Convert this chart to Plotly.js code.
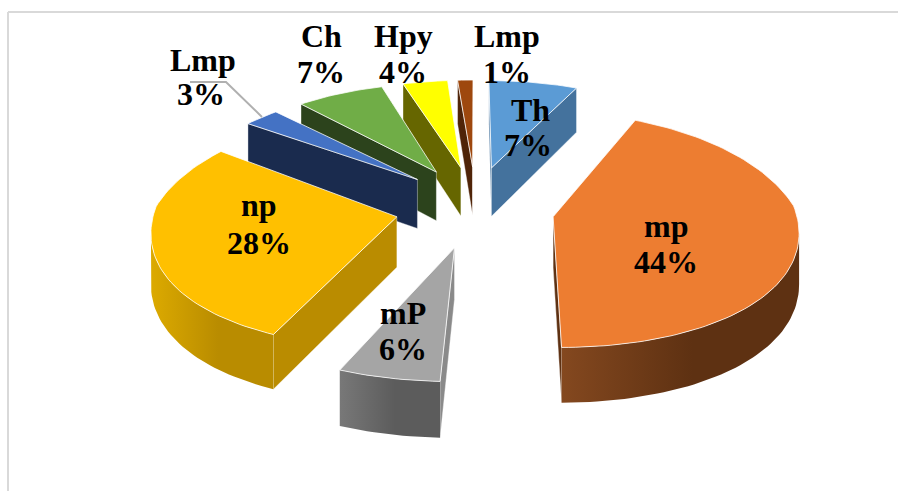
<!DOCTYPE html>
<html>
<head>
<meta charset="utf-8">
<script src="https://cdn.plot.ly/plotly-3.0.1.min.js"></script>
<style>html,body{margin:0;padding:0;background:#fff}#chart{width:898px;height:491px}</style>
</head>
<body>
<div id="chart"></div>
<script>
// Data, in clockwise order from twelve o'clock
const categories = ['Th', 'mp', 'mP', 'np', 'Lmp', 'Ch', 'Hpy', 'Lmp'];
const percents   = [7, 44, 6, 28, 3, 7, 4, 1];

// Styles
const topColors  = ['#5b9bd5', '#ed7d31', '#a5a5a5', '#ffc000', '#4472c4', '#70ad47', '#ffff00', '#9e480e'];
const cutColors  = ['#44729d', '#5e3112', '#8a8a8a', '#ba8c00', '#1a2b4e', '#2c431c', '#666600', '#4f2408'];
const rimLight   = ['#44729d', '#84481f', '#787878', '#dcaa00', '#1a2b4e', '#2c431c', '#666600', '#4f2408'];
const rimDark    = ['#44729d', '#5e3112', '#5c5c5c', '#b98c00', '#1a2b4e', '#2c431c', '#666600', '#4f2408'];
const labelCX    = [530, 666, 403, 259, 203, 321, 403, 507];
const labelNameY = [110, 226, 313, 205, 60, 36, 36, 36];
const labelPctY  = [145, 262, 349, 243, 94, 72, 72, 72];
const labelPctDX = [-2, 0, 0, 0, -2, 0, 0, 0];
// Perspective skew of each slice's start and end boundary, in degrees
const startSkew = [0, 1.3, -1.1, 0.5, -2.2, -0.5, 0, -1];
const endSkew   = [1.3, -3.6, -1, -1.8, -2.9, 0, -1, 0];

// Projection of the tilted exploded pie
const CX = 475, CY = 206, R = 242, PULL = 80;
function project(X, Y) {
  const s = Y >= 0 ? 1 / (1 + 0.0008 * Y) : 1 / (1 + 0.0004 * Y);
  let ys = Y >= 0 ? 0.53 * Y / (1 + 0.0011 * Y) : 0.54 * Y;
  if (Y < -270) ys += Math.max(0.2 * (Y + 270), -3);
  return { x: CX + X * s, y: CY - ys, d: 50 - 0.02 * Y };
}

const total = percents.reduce((a, b) => a + b, 0);
const toRad = Math.PI / 180;
let cursor = 0;
const slices = percents.map((p, i) => {
  const base0 = cursor, base1 = cursor + p / total * 360;
  cursor = base1;
  const a0 = base0 + startSkew[i], a1 = base1 + endSkew[i];
  const mid = (base0 + base1) / 2 * toRad;
  const ax = PULL * Math.sin(mid), ay = PULL * Math.cos(mid);
  const n = Math.max(4, Math.round((a1 - a0) / 1.5));
  const rim = [];
  for (let k = 0; k <= n; k++) {
    const t = (a0 + (a1 - a0) * k / n) * toRad;
    rim.push(project(ax + R * Math.sin(t), ay + R * Math.cos(t)));
  }
  return { i, apex: project(ax, ay), rim, ay };
}).sort((a, b) => b.ay - a.ay);

const edgeWhite = 'rgba(255,255,255,0.85)';
const traces = [];
function poly(pts, fill, gradient, lineColor, lineWidth) {
  const t = {
    type: 'scatter', mode: 'lines', fill: 'toself',
    x: pts.map(p => p.x).concat(pts[0].x),
    y: pts.map(p => p.y).concat(pts[0].y),
    line: { color: lineColor || 'rgba(0,0,0,0)', width: lineWidth || 0, shape: 'linear' },
    fillcolor: fill, hoverinfo: 'skip', showlegend: false
  };
  if (gradient) t.fillgradient = gradient;
  traces.push(t);
}
const below = p => ({ x: p.x, y: p.y + p.d });

slices.forEach(s => {
  const i = s.i, A = s.apex, P0 = s.rim[0], Pn = s.rim[s.rim.length - 1];
  // Cut faces whose outward side looks at the viewer
  [[A, P0], [Pn, A]].forEach(([u, v]) => {
    if (v.x - u.x < 0) {
      poly([u, v, below(v), below(u)], cutColors[i], null, 'rgba(255,255,255,0.55)', 0.7);
    }
  });
  // Curved outer wall: the part of the rim travelling leftwards on screen
  let run = [];
  for (let k = 0; k < s.rim.length - 1; k++) {
    if (s.rim[k + 1].x - s.rim[k].x < 0) {
      if (!run.length) run.push(s.rim[k]);
      run.push(s.rim[k + 1]);
    }
  }
  if (run.length > 1) {
    poly(run.concat(run.slice().reverse().map(below)), rimDark[i], {
      type: 'horizontal',
      colorscale: [[0, rimLight[i]], [0.55, rimDark[i]], [1, rimDark[i]]]
    });
  }
  // Top face
  poly([A].concat(s.rim), topColors[i], null, edgeWhite, 0.9);
});

// Leader line of the small Lmp slice, from its label to the slice
const leaderX = [190, 226, 262];
const leaderY = [82, 82, 117];
traces.push({
  type: 'scatter', mode: 'lines', x: leaderX, y: leaderY,
  line: { color: '#b0b0b0', width: 2 }, hoverinfo: 'skip', showlegend: false
});

const font = { family: '"Liberation Serif", "Times New Roman", serif', size: 32, color: '#000' };
const annotations = [];
categories.forEach((c, i) => {
  annotations.push({ x: labelCX[i], y: labelNameY[i], text: '<b>' + c + '</b>', showarrow: false, font, xanchor: 'center', yanchor: 'middle' });
  annotations.push({ x: labelCX[i] + labelPctDX[i], y: labelPctY[i], text: '<b>' + percents[i] + '%</b>', showarrow: false, font, xanchor: 'center', yanchor: 'middle' });
});

const layout = {
  width: 898, height: 491,
  margin: { l: 0, r: 0, t: 0, b: 0 },
  paper_bgcolor: '#fff', plot_bgcolor: '#fff',
  xaxis: { range: [0, 898], visible: false, fixedrange: true },
  yaxis: { range: [491, 0], visible: false, fixedrange: true },
  showlegend: false,
  annotations,
  shapes: [
    { type: 'line', xref: 'x', yref: 'y', x0: 8, x1: 898, y0: 12, y1: 12, line: { color: '#d9d9d9', width: 2 }, layer: 'below' },
    { type: 'line', xref: 'x', yref: 'y', x0: 8, x1: 8, y0: 12, y1: 491, line: { color: '#d9d9d9', width: 2 }, layer: 'below' }
  ]
};
Plotly.newPlot('chart', traces, layout, { displayModeBar: false, responsive: false });
</script>
</body>
</html>
